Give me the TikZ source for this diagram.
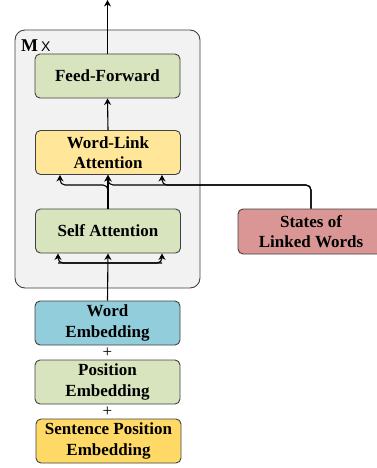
\documentclass[tikz,border=0pt]{standalone}
\usepackage{fontspec}
\setmainfont{Liberation Serif}
\setsansfont{Liberation Sans}
\usetikzlibrary{arrows.meta}
\definecolor{layergray}{HTML}{F2F2F2}
\definecolor{boxgreen}{HTML}{D7E4BD}
\definecolor{boxyellow}{HTML}{FFE699}
\definecolor{boxblue}{HTML}{92CDDC}
\definecolor{boxred}{HTML}{D99694}
\definecolor{boxorange}{HTML}{FFD966}

\begin{document}
\begin{tikzpicture}[x=1pt,y=-1pt,
  blk/.style={draw=black!75,line width=0.9pt,rounded corners=5pt,minimum width=145pt,minimum height=44pt,inner sep=0pt,align=center,font=\fontsize{17}{20.5}\selectfont\bfseries},
  arr/.style={-{Stealth[length=6.5pt,width=7pt]},line width=1.1pt}]
\useasboundingbox (0,0) rectangle (377,468);
% stacked layer
\draw[draw=black!75,fill=layergray,line width=0.9pt,rounded corners=10pt] (15,30) rectangle (200,288);
\node[right,inner sep=0pt] (mx) at (21,46) {\fontsize{18}{20}\selectfont\bfseries M\,\fontsize{14}{16}\sffamily\mdseries X};
\node[blk,fill=boxgreen] (ff) at (107.5,76) {Feed-Forward};
\node[blk,fill=boxyellow] (wla) at (108,152.5) {Word-Link\\Attention};
\node[blk,fill=boxgreen] (sa) at (108,231) {Self Attention};
\node[blk,fill=boxred,minimum width=146pt,minimum height=45pt] (st) at (311,231.5) {States of\\Linked Words};
% embeddings
\node[blk,fill=boxblue] (we) at (107.5,323) {Word\\Embedding};
\node[blk,fill=boxgreen] (pe) at (107.5,382) {Position\\Embedding};
\node[blk,fill=boxorange] (spe) at (108.5,441) {Sentence Position\\Embedding};
\node[font=\fontsize{17}{17}\selectfont,inner sep=0pt] (p1) at (107.5,352.5) {+};
\node[font=\fontsize{17}{17}\selectfont,inner sep=0pt] (p2) at (107.5,412) {+};
% junctions
\coordinate (out) at (107.5,0);
\coordinate (ja) at (60,185);
\coordinate (jb) at (108,185);
\coordinate (jc) at (162,185);
\coordinate (bl) at (58,263);
\coordinate (br) at (162,263);
\draw[arr] (ff.north) -- (out);
\draw[arr] (wla.north) -- (ff.south);
\draw[arr] (sa.north) -- (wla.south);
\draw[arr,rounded corners=5pt] (sa.north) |- (ja) -- (ja |- wla.south);
\draw[arr,rounded corners=5pt] (st.north) |- (jb) -- (jb |- wla.south);
\draw[arr,rounded corners=5pt] (st.north) |- (jc) -- (jc |- wla.south);
\draw[arr] (we.north) -- (sa.south);
\draw[arr,rounded corners=5pt] (br) -- (bl) -- (bl |- sa.south);
\draw[arr,rounded corners=5pt] (bl) -- (br) -- (br |- sa.south);
\end{tikzpicture}
\end{document}
